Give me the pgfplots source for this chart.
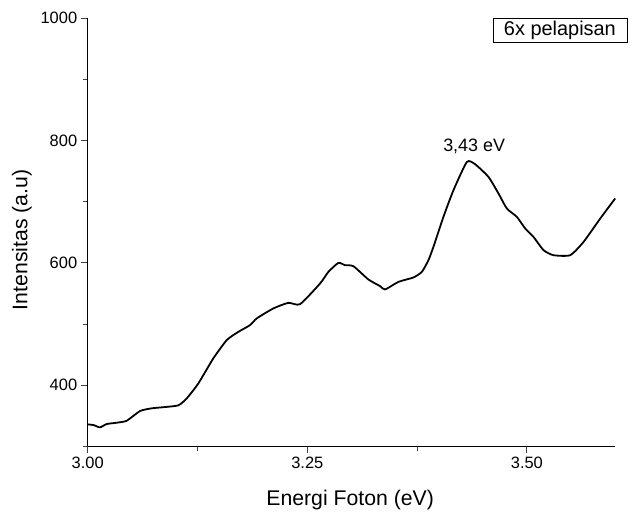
\documentclass[border=0pt]{standalone}
\usepackage{fontspec}
\setmainfont{Liberation Sans}
\usepackage{pgfplots}
\pgfplotsset{compat=1.18}
\begin{document}
\begin{tikzpicture}
\begin{axis}[
  scale only axis,
  width=527bp, height=428.25bp,
  xmin=3.0, xmax=3.6, ymin=300, ymax=1000,
  axis x line=bottom, axis y line=left,
  axis line style={-, line width=0.8pt},
  xtick={3.0,3.25,3.5}, minor xtick={3.125,3.375,3.625},
  ytick={400,600,800,1000}, minor ytick={300,500,700,900},
  tick align=outside,
  major tick length=7bp, minor tick length=4.5bp,
  tick style={line width=0.8pt, black!75},
  /pgf/number format/assume math mode=true,
  xticklabel style={font=\fontsize{16.5}{19}\selectfont, /pgf/number format/.cd, fixed, fixed zerofill, precision=2},
  yticklabel style={font=\fontsize{16.5}{19}\selectfont, /pgf/number format/.cd, fixed, 1000 sep={}},
  xlabel={Energi Foton (eV)}, ylabel={Intensitas (a.u)},
  label style={font=\fontsize{21.3}{25}\selectfont},
  xlabel style={at={(axis description cs:0.498,-0.1255)}, anchor=center},
  ylabel style={at={(axis description cs:-0.1247,0.4816)}, anchor=center},
  clip=false,
]
\addplot[black, line width=1.8pt, line join=round, smooth, tension=0.35] coordinates {
(3.000,335.8) (3.007,334.5) (3.014,330.9) (3.0216,336.3) (3.033,338.5) (3.0444,341.7) (3.0596,357.6)
(3.0729,362) (3.088,364.1) (3.1032,366.9) (3.1128,378.3) (3.126,402.8)
(3.143,443.6) (3.1583,473.5) (3.1715,487) (3.1848,498) (3.1925,509)
(3.2114,525.3) (3.2285,534.4) (3.2418,532.3) (3.2646,566.1) (3.274,585)
(3.2854,599.7) (3.293,596) (3.3025,594.3) (3.3196,572.6) (3.3329,561.7)
(3.3386,556.3) (3.3538,568.7) (3.3708,575.9) (3.3804,585) (3.3879,604.1)
(3.3936,625.9) (3.405,674.9) (3.4164,718.5) (3.4317,764.7) (3.4411,760.9)
(3.4563,740.2) (3.4677,713.1) (3.4772,688.6) (3.4886,674.9) (3.4981,655.9)
(3.5075,642.2) (3.519,620.5) (3.5303,612.3) (3.5493,612.3) (3.5645,634)
(3.5835,672.2) (3.6005,705)
};
\node[font=\fontsize{18}{21}\selectfont] at (axis cs:3.44,790.3) {3,43 eV};
\node[draw, line width=0.8pt, minimum width=134bp, minimum height=24bp, inner sep=0pt,
  font=\fontsize{20}{24}\selectfont] at (rel axis cs:0.896,0.972) {6x pelapisan};
\coordinate (bl) at (rel axis cs:-0.1664,-0.1675);
\coordinate (tr) at (rel axis cs:1.029,1.042);
\end{axis}
\pgfresetboundingbox
\path[use as bounding box] (bl) rectangle (tr);
\end{tikzpicture}
\end{document}
